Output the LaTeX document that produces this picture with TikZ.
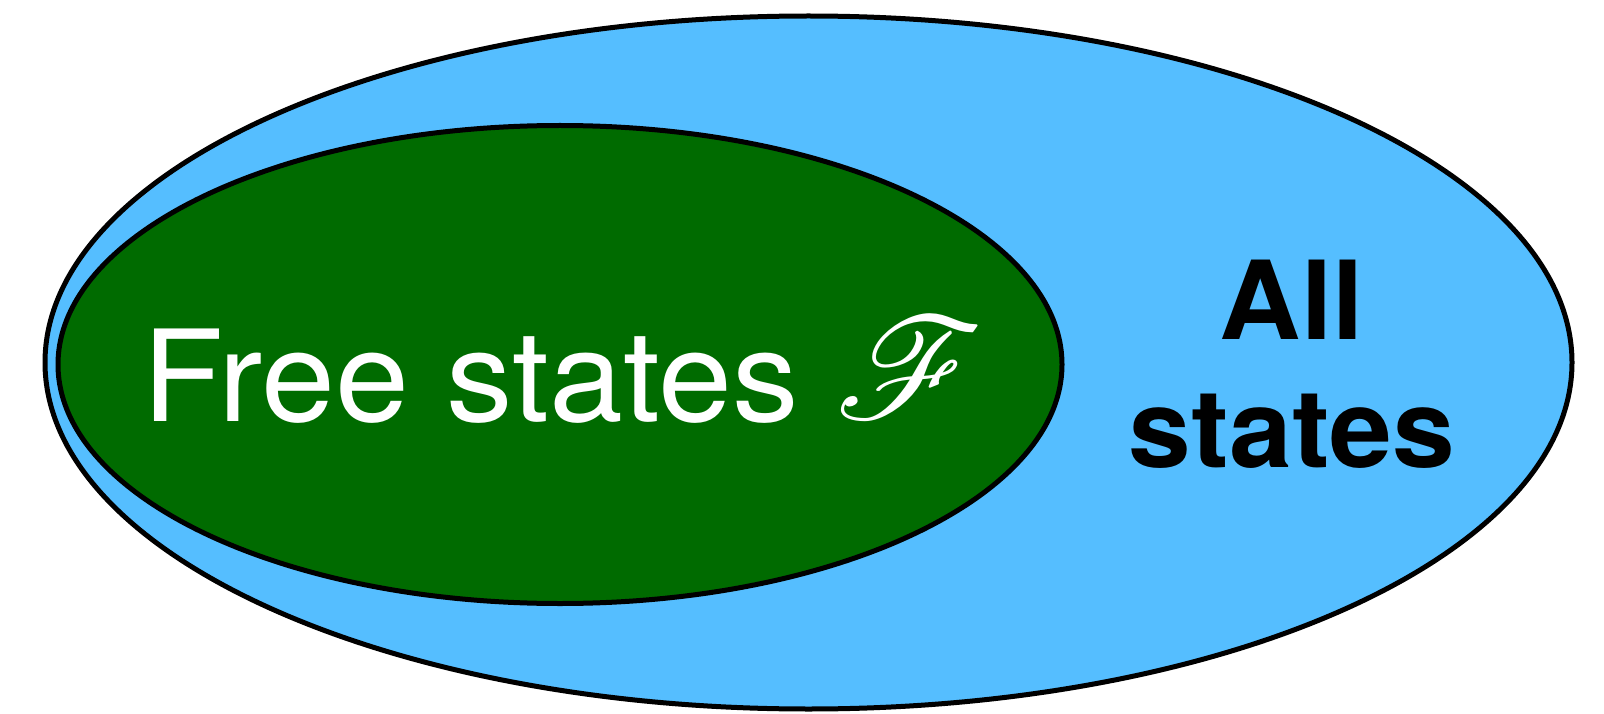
\documentclass[tikz,border=0pt]{standalone}
\usepackage{fontspec}
\setmainfont{TeX Gyre Heros}
\newfontfamily\freefont[FakeStretch=1.047]{TeX Gyre Heros}
\newfontfamily\allfont[FakeStretch=1.035]{TeX Gyre Heros}
\DeclareFontFamily{U}{bigrsfs}{}
\DeclareFontShape{U}{bigrsfs}{m}{n}{<->rsfs10}{}
\newcommand{\scriptF}{{\fontsize{144}{144}\usefont{U}{bigrsfs}{m}{n}\raisebox{3pt}{F}}}
\usetikzlibrary{shapes.geometric}
\definecolor{allblue}{RGB}{85,190,255}
\definecolor{freegreen}{RGB}{0,107,0}
\tikzset{
  stateset/.style={ellipse, draw=black, line width=5pt, inner sep=0pt},
  freelabel/.style={font=\freefont\fontsize{127}{127}\selectfont, text=white, inner sep=0pt},
  alllabel/.style={font=\allfont\fontsize{109}{128}\selectfont\bfseries, align=center, inner sep=0pt},
}
\begin{document}
\begin{tikzpicture}[x=1pt,y=-1pt]
  \useasboundingbox (0,0) rectangle (1604,714);
  % Sets
  \node[stateset, fill=allblue, minimum width=1527pt, minimum height=693pt] (all) at (808.5,362.5) {};
  \node[stateset, fill=freegreen, minimum width=1004pt, minimum height=478pt] (free) at (560,364.5) {};
  % Labels
  \node[freelabel, anchor=base west] (freetext) at (142,421) {Free states \scriptF};
  \node[alllabel, anchor=base] (alltext) at (1292,467) {All\\states};
\end{tikzpicture}
\end{document}
